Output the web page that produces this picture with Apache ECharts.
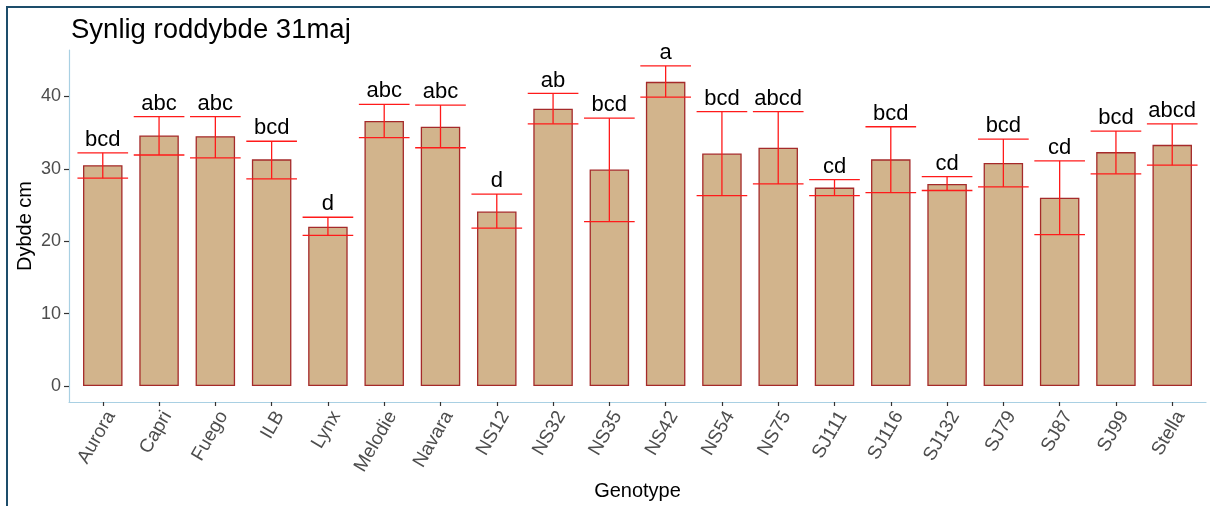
<!DOCTYPE html>
<html>
<head>
<meta charset="utf-8">
<script src="https://cdn.jsdelivr.net/npm/echarts@6/dist/echarts.min.js"></script>
<style>
  html, body { margin: 0; padding: 0; background: #ffffff; }
  #chart { position: absolute; left: 0; top: 0; width: 1210px; height: 506px; }
  #frame { position: absolute; left: 6px; top: 6px; right: 0; bottom: 0;
           border-top: 2px solid #1d4d6b; border-left: 2px solid #1d4d6b; pointer-events: none; }
</style>
</head>
<body>
<div id="chart"></div>
<div id="frame"></div>
<script>
// Genotypes on the x axis
const genotypes = ['Aurora', 'Capri', 'Fuego', 'ILB', 'Lynx', 'Melodie', 'Navara', 'NS12', 'NS32', 'NS35',
                   'NS42', 'NS54', 'NS75', 'SJ111', 'SJ116', 'SJ132', 'SJ79', 'SJ87', 'SJ99', 'Stella'];
// Mean visible root depth (cm)
const meanDepth = [30.5, 34.6, 34.5, 31.3, 22.0, 36.6, 35.8, 24.1, 38.3, 29.9,
                   42.0, 32.1, 32.9, 27.4, 31.3, 27.9, 30.8, 26.0, 32.3, 33.3];
// Lower and upper ends of the error bars (cm)
const errLower = [28.7, 31.9, 31.5, 28.6, 20.8, 34.3, 32.9, 21.8, 36.2, 22.7,
                  39.9, 26.3, 27.9, 26.3, 26.7, 27.0, 27.5, 20.9, 29.3, 30.5];
const errUpper = [32.2, 37.2, 37.2, 33.8, 23.3, 38.9, 38.8, 26.5, 40.4, 37.0,
                  44.2, 37.9, 37.9, 28.5, 35.8, 28.9, 34.1, 31.1, 35.2, 36.2];
// Significance group letters
const groupLetters = ['bcd', 'abc', 'abc', 'bcd', 'd', 'abc', 'abc', 'd', 'ab', 'bcd',
                      'a', 'bcd', 'abcd', 'cd', 'bcd', 'cd', 'bcd', 'cd', 'bcd', 'abcd'];
// Y axis tick values
const yTicks = [0, 10, 20, 30, 40];

const positions = genotypes.map((_, i) => i);
const font = "'Liberation Sans', Arial, sans-serif";
const axisBlue = '#a9d0e3';

const chart = echarts.init(document.getElementById('chart'), null, { renderer: 'canvas' });

chart.setOption({
  animation: false,
  backgroundColor: '#ffffff',
  title: {
    text: 'Synlig roddybde 31maj',
    left: 66,
    top: 11,
    textStyle: { fontFamily: font, fontSize: 27.5, fontWeight: 'normal', color: '#000000' }
  },
  grid: { left: 69, right: 4, top: 50, bottom: 104, containLabel: false, outerBoundsMode: 'none' },
  xAxis: {
    type: 'value',
    min: -0.6,
    max: genotypes.length - 0.4,
    splitLine: { show: false },
    axisLine: { show: true, onZero: false, lineStyle: { color: axisBlue, width: 1.2 } },
    axisTick: { show: true, customValues: positions, length: 4, lineStyle: { color: '#333333', width: 1.2 } },
    axisLabel: {
      customValues: positions,
      formatter: v => genotypes[Math.round(v)],
      rotate: 60,
      verticalAlign: 'top',
      margin: 6,
      fontFamily: font,
      fontSize: 19,
      color: '#4d4d4d'
    },
    name: 'Genotype',
    nameLocation: 'middle',
    nameGap: 79,
    nameMoveOverlap: false,
    nameTextStyle: { fontFamily: font, fontSize: 20, color: '#000000' }
  },
  yAxis: {
    type: 'value',
    min: -2.21,
    max: 46.4,
    splitLine: { show: false },
    axisLine: { show: true, onZero: false, lineStyle: { color: axisBlue, width: 1.2 } },
    axisTick: { show: true, customValues: yTicks, length: 5, lineStyle: { color: '#333333', width: 1.2 } },
    axisLabel: {
      customValues: yTicks,
      margin: 8,
      fontFamily: font,
      fontSize: 18,
      color: '#4d4d4d'
    },
    name: 'Dybde cm',
    nameLocation: 'middle',
    nameGap: 34,
    nameMoveOverlap: false,
    nameTextStyle: { fontFamily: font, fontSize: 20, color: '#000000' }
  },
  series: [
    {
      type: 'bar',
      data: meanDepth.map((v, i) => [i, v]),
      barWidth: 39.5,
      itemStyle: { color: '#d2b48c', borderColor: '#a52a2a', borderWidth: 1.3 }
    },
    {
      type: 'custom',
      data: genotypes.map((_, i) => [i, errLower[i], errUpper[i]]),
      renderItem: function (params, api) {
        const i = api.value(0);
        const lo = api.coord([i, api.value(1)]);
        const hi = api.coord([i, api.value(2)]);
        const half = api.size([0.9, 0])[0] / 2;
        const style = { stroke: '#ff1a1a', lineWidth: 1.3 };
        return {
          type: 'group',
          children: [
            { type: 'line', shape: { x1: hi[0], y1: hi[1], x2: lo[0], y2: lo[1] }, style },
            { type: 'line', shape: { x1: hi[0] - half, y1: hi[1], x2: hi[0] + half, y2: hi[1] }, style },
            { type: 'line', shape: { x1: lo[0] - half, y1: lo[1], x2: lo[0] + half, y2: lo[1] }, style },
            {
              type: 'text',
              style: {
                text: groupLetters[params.dataIndex],
                x: hi[0],
                y: hi[1] - 2,
                align: 'center',
                verticalAlign: 'bottom',
                fontFamily: font,
                fontSize: 22,
                fill: '#000000'
              }
            }
          ]
        };
      },
      z: 3
    }
  ]
});
</script>
</body>
</html>
